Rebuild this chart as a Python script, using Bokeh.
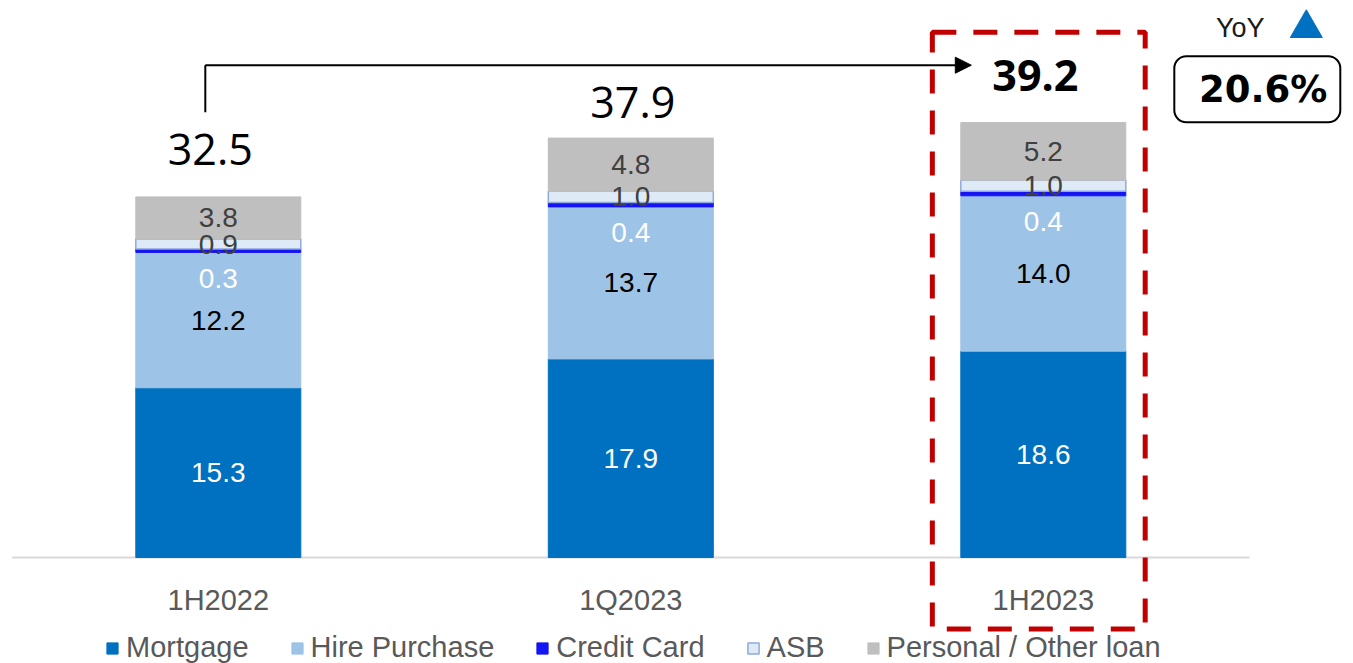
import numpy as np
from bokeh.plotting import figure
from bokeh.models import (Range1d, FixedTicker, ColumnDataSource, Legend, LegendItem,
                          BoxAnnotation, Arrow, NormalHead)
from bokeh.core.properties import value
from bokeh.embed import file_html
from bokeh.resources import INLINE

# Loan book by product (RM bil)
categories = ["1H2022", "1Q2023", "1H2023"]
mortgage = [15.3, 17.9, 18.6]
hire_purchase = [12.2, 13.7, 14.0]
credit_card = [0.3, 0.4, 0.4]
asb = [0.9, 1.0, 1.0]
personal_other = [3.8, 4.8, 5.2]
totals = [32.5, 37.9, 39.2]
yoy_growth = "20.6%"
series_names = ["Mortgage", "Hire Purchase", "Credit Card", "ASB", "Personal / Other loan"]

keys = ["mortgage", "hire_purchase", "credit_card", "asb", "personal_other"]
series_values = [mortgage, hire_purchase, credit_card, asb, personal_other]
fills = ["#0070C0", "#9DC3E6", "#1414F5", "#DEEBF7", "#BFBFBF"]
edges = ["#0070C0", "#9DC3E6", "#1414F5", "#8FAADC", "#BFBFBF"]
edge_widths = [1, 1, 1, 1.5, 1]
label_colors = ["white", "black", "white", "#404040", "#404040"]
label_drop = [0, 0, 28, 0, 0]          # px, pushes the thin credit-card label into the bar below

xs = list(range(len(categories)))
highlight = 2                          # category framed by the red dashed box

p = figure(width=1353, height=663, output_backend="svg", toolbar_location=None,
           x_range=Range1d(-0.528, 2.752), y_range=Range1d(-9.55, 50.2),
           y_axis_location=None, min_border=0, outline_line_color=None,
           background_fill_color="white", border_fill_color="white")
p.xgrid.visible = False
p.ygrid.visible = False

# baseline under the bars
p.segment(x0=[-0.5], y0=[0], x1=[2.5], y1=[0], line_color="#D9D9D9", line_width=2)

src = ColumnDataSource(dict(x=xs, **{k: v for k, v in zip(keys, series_values)}))
bars = p.vbar_stack(keys, x="x", width=0.4, source=src,
                    fill_color=fills, line_color=edges, line_width=edge_widths)

# value labels inside each segment
lx, ly, lt, lc, ld = [], [], [], [], []
base = np.zeros(len(categories))
for vals, col, drop in zip(series_values, label_colors, label_drop):
    v = np.array(vals, dtype=float)
    mid = base + v / 2
    for i in xs:
        lx.append(i); ly.append(mid[i]); lt.append(f"{v[i]:.1f}")
        lc.append(col); ld.append(drop)
    base += v
p.text(x="x", y="y", text="text", text_color="color", y_offset="dy",
       source=ColumnDataSource(dict(x=lx, y=ly, text=lt, color=lc, dy=ld)),
       text_align="center", text_baseline="middle",
       text_font=value("Liberation Sans"), text_font_size="28px")

# totals above the bars
total_src = ColumnDataSource(dict(
    x=xs, y=totals, text=[f"{t:.1f}" for t in totals],
    dx=[-8, 2, -8], dy=[-47, -34, -47],
    style=["bold" if i == highlight else "normal" for i in xs]))
p.text(x="x", y="y", text="text", x_offset="dx", y_offset="dy", text_font_style="style",
       source=total_src, text_align="center", text_baseline="middle",
       text_color="black", text_font=value("Open Sans"), text_font_size="43px")

# growth arrow from first to last period
arrow_y = totals[0] + 11.87
p.segment(x0=[-0.0315], y0=[totals[0] + 7.64], x1=[-0.0315], y1=[arrow_y],
          line_color="black", line_width=2)
p.add_layout(Arrow(x_start=-0.0315, y_start=arrow_y, x_end=highlight - 0.1745, y_end=arrow_y,
                   line_color="black", line_width=2,
                   end=NormalHead(size=16, fill_color="black", line_color="black", line_width=1)))

# highlight frame around the latest period
p.add_layout(BoxAnnotation(left=highlight - 0.269, right=highlight + 0.247,
                           top=47.34, bottom=-6.44, fill_color=None, fill_alpha=0,
                           line_color="#C00000", line_alpha=1.0, line_width=5,
                           line_dash="24 17"))

# YoY call-out
p.text(x=[2.4776], y=[47.7], text=["YoY"], text_align="center", text_baseline="middle",
       text_color="#1A1A1A", text_font=value("Liberation Sans"), text_font_size="27px")
p.scatter(x=[2.6376], y=[47.7], marker="triangle", size=32,
          fill_color="#0070C0", line_color="#0070C0")
p.add_layout(BoxAnnotation(left=2.3176, right=2.720, top=45.18, bottom=39.23,
                           fill_color=None, fill_alpha=0, line_color="black", line_alpha=1.0,
                           line_width=2, border_radius=12))
p.text(x=[2.533], y=[42.2], text=[yoy_growth], text_align="center", text_baseline="middle",
       text_color="black", text_font=value("DejaVu Sans"), text_font_style="bold",
       text_font_size="37px")

# category axis sitting on the zero line
ax = p.xaxis[0]
ax.fixed_location = 0
ax.ticker = FixedTicker(ticks=xs)
ax.major_label_overrides = {i: c for i, c in enumerate(categories)}
ax.axis_line_color = None
ax.major_tick_line_color = None
ax.minor_tick_line_color = None
ax.major_label_standoff = 20
ax.major_label_text_font = "Liberation Sans"
ax.major_label_text_font_size = "29px"
ax.major_label_text_color = "#595959"

legend = Legend(items=[LegendItem(label=n, renderers=[r]) for n, r in zip(series_names, bars)],
                orientation="horizontal", location=(105, -1),
                glyph_width=14, glyph_height=14, label_standoff=7, spacing=41,
                padding=0, margin=0, border_line_color=None, background_fill_alpha=0,
                label_text_font="Liberation Sans", label_text_font_size="29px",
                label_text_color="#595959")
p.add_layout(legend)

open("out.html", "w").write(file_html(p, INLINE))
